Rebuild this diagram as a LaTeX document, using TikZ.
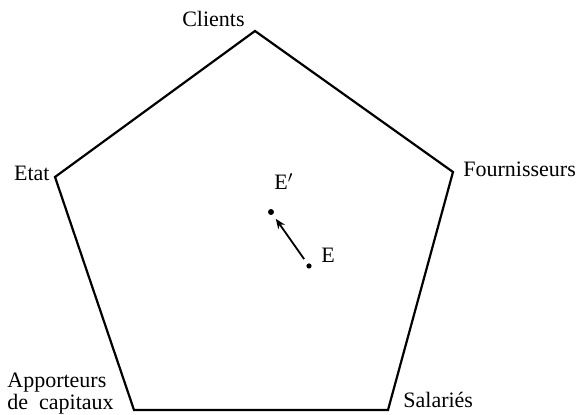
\documentclass[tikz,border=0pt]{standalone}
\usepackage{fontspec}
\setmainfont{Liberation Serif}
\usepackage{tikz}
\usetikzlibrary{arrows.meta}
\tikzstyle{spot}=[circle,fill=black,draw=none,minimum size=3pt,inner sep=0pt]
\tikzstyle{edge}=[line width=1.1pt,line join=miter]
\tikzset{lbl/.style={inner sep=0pt,font=\fontsize{11}{9.5}\selectfont}}

\begin{document}
\begin{tikzpicture}[x=0.5pt,y=-0.5pt]

  \useasboundingbox (0,0) rectangle (580,415);

  % sommets du pentagone
  \foreach \name/\x/\y in {C/255/31, F/453/172, S/388/410, A/134/410, Et/55/177}
         \coordinate (\name) at (\x,\y);

  \draw[edge] (C) -- (F) -- (S) -- (A) -- (Et) -- cycle;

  % noms des partenaires
  \node[lbl, anchor=base east] (clients) at (245,27) {Clients};
  \node[lbl, anchor=base east] (etat) at (50,181) {Etat};
  \node[lbl, anchor=base west] (fourn) at (463,177) {Fournisseurs};
  \node[lbl, anchor=base west] (salar) at (403,408) {Salariés};
  \node[lbl, anchor=south west, align=left] (apport) at (7,415) {Apporteurs\\de\ \ capitaux};

  % deplacement de E vers E'
  \node[spot] (ep) at (271,212) {};
  \node[spot, minimum size=2.6pt] (e) at (309,266) {};
  \node[lbl, anchor=base west] (eplab) at (274,190) {E$'$};
  \node[lbl, anchor=base west] (elab) at (321,263) {E};

  \draw[-{Stealth[length=5pt,width=4pt]}, line width=0.9pt, shorten <=2.7pt, shorten >=2.5pt] (e) -- (ep);

\end{tikzpicture}
\end{document}
